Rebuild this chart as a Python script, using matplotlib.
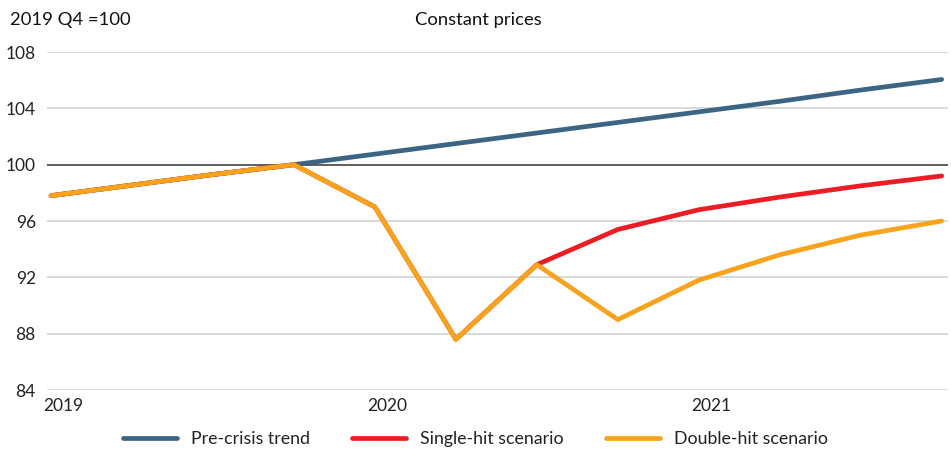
import numpy as np
import matplotlib
matplotlib.use('Agg')
import matplotlib.pyplot as plt

plt.rcParams['font.family'] = ['Lato', 'DejaVu Sans']

# quarterly index, 2019 Q1 .. 2021 Q4 (2019 Q4 = 100)
quarters = np.arange(12)
pre_crisis = [97.8, 98.55, 99.3, 100.0, 100.75, 101.5, 102.25, 103.0, 103.75, 104.5, 105.3, 106.05]
single_hit = [97.8, 98.55, 99.3, 100.0, 97.0, 87.6, 92.9, 95.4, 96.8, 97.7, 98.5, 99.2]
double_hit = [97.8, 98.55, 99.3, 100.0, 97.0, 87.6, 92.9, 89.0, 91.8, 93.6, 95.0, 96.0]
year_labels = ['2019', '2020', '2021']
year_pos = [0, 4, 8]
yticks = [84, 88, 92, 96, 100, 104, 108]

fig = plt.figure(figsize=(9.51, 4.5), dpi=100)
ax = fig.add_axes([0.0494, 0.1333, 0.9476, 0.7511])

for y in yticks:
    if y == 100:
        ax.axhline(y, color='#333333', lw=1.1, zorder=1)
    else:
        ax.axhline(y, color='#d0d0d0', lw=1.1, zorder=1)

ax.plot(quarters, pre_crisis, color='#3b6583', lw=3.4, solid_capstyle='round', label='Pre-crisis trend', zorder=3)
ax.plot(quarters, single_hit, color='#ec1c24', lw=3.4, solid_capstyle='round', label='Single-hit scenario', zorder=4)
ax.plot(quarters, double_hit, color='#f8a31b', lw=3.4, solid_capstyle='round', label='Double-hit scenario', zorder=5)

ax.set_xlim(-0.05, 11.08)
ax.set_ylim(84, 108)
ax.set_yticks(yticks)
ax.set_yticklabels([str(v) for v in yticks], fontsize=12.5, color='#222222')
ax.set_xticks([p + 0.15 for p in year_pos])
ax.set_xticklabels(year_labels, fontsize=12.5, color='#222222')
ax.tick_params(length=0, pad=8)
ax.tick_params(axis='x', pad=6)
for s in ax.spines.values():
    s.set_visible(False)

fig.text(0.011, 0.955, '2019 Q4 =100', fontsize=13.3, color='#111111', va='center', ha='left')
fig.text(0.503, 0.955, 'Constant prices', fontsize=13.3, color='#111111', va='center', ha='center')

leg = fig.legend(loc='center', bbox_to_anchor=(0.5, 0.024), ncol=3, frameon=False,
                 fontsize=12.8, handlelength=3.0, handletextpad=0.8, columnspacing=2.4)
for t in leg.get_texts():
    t.set_color('#222222')

fig.savefig('out.png', dpi=100)
